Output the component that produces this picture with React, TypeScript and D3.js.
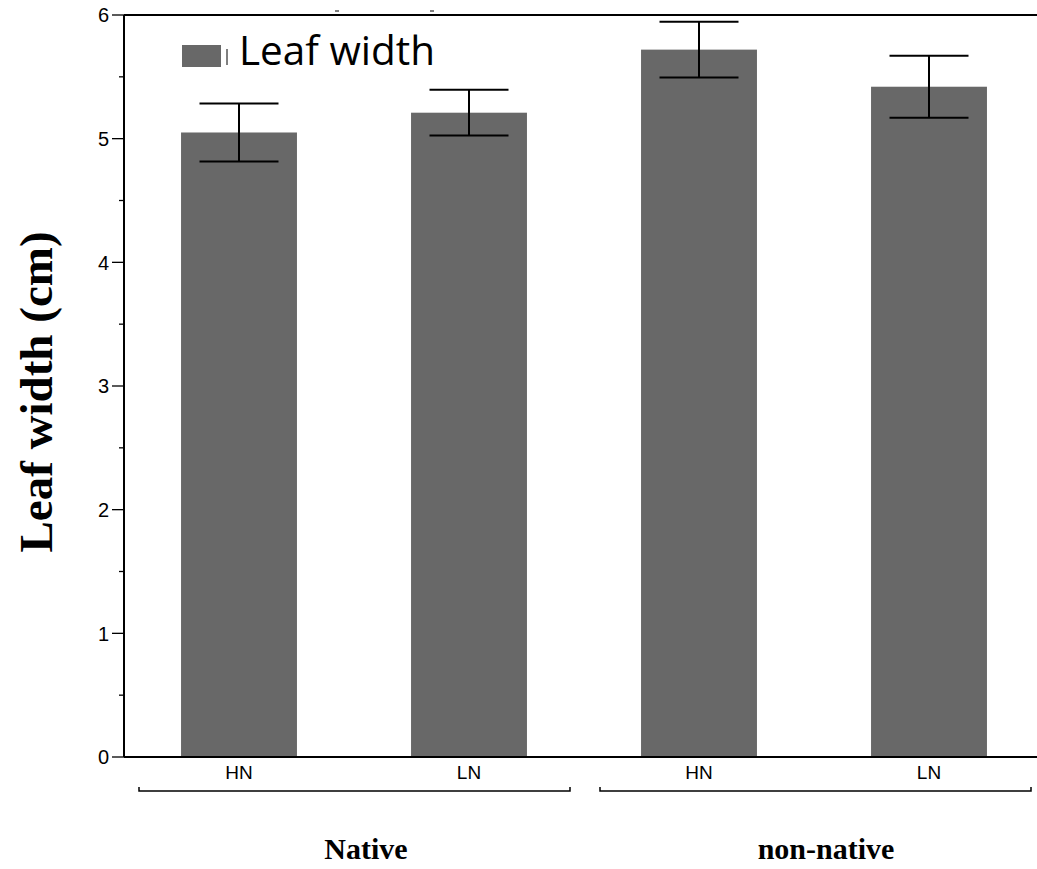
import React from "react";
import * as d3 from "d3";

const categories = ["Native-HN", "Native-LN", "non-native-HN", "non-native-LN"];
const tickLabels = ["HN", "LN", "HN", "LN"];
const means = [5.05, 5.21, 5.72, 5.42];
const errors = [0.235, 0.185, 0.225, 0.25];
const groups = ["Native", "non-native"];
const yTicks = [0, 1, 2, 3, 4, 5, 6];

const W = 1037;
const H = 869;

export default function App() {
  const y = d3.scaleLinear().domain([0, 6]).range([757, 15]);
  const x = d3
    .scaleBand<string>()
    .domain(categories)
    .range([124, 1044])
    .paddingInner(0.496)
    .paddingOuter(0.248);
  const bw = x.bandwidth();
  const minor = d3.range(0.5, 6, 1);
  const barColor = "#686868";

  const groupSpans = [
    { label: groups[0], x1: 139, x2: 570, tx: 366 },
    { label: groups[1], x1: 600, x2: 1031, tx: 826 },
  ];

  return (
    <svg
      width={W}
      height={H}
      style={{ position: "absolute", left: 0, top: 0, background: "#fff" }}
    >
      {/* bars */}
      {categories.map((c, i) => (
        <rect
          key={c}
          x={x(c)}
          y={y(means[i])}
          width={bw}
          height={y(0) - y(means[i])}
          fill={barColor}
        />
      ))}
      {/* error bars */}
      {categories.map((c, i) => {
        const cx = (x(c) as number) + bw / 2;
        const hi = y(means[i] + errors[i]);
        const lo = y(means[i] - errors[i]);
        return (
          <g key={c} stroke="#000" strokeWidth={2}>
            <line x1={cx} x2={cx} y1={hi} y2={lo} />
            <line x1={cx - 39.5} x2={cx + 39.5} y1={hi} y2={hi} />
            <line x1={cx - 39.5} x2={cx + 39.5} y1={lo} y2={lo} />
          </g>
        );
      })}
      {/* frame lines */}
      <line x1={124} x2={W} y1={y(6)} y2={y(6)} stroke="#000" strokeWidth={2} />
      <line x1={124} x2={W} y1={y(0)} y2={y(0)} stroke="#000" strokeWidth={2} />
      <line x1={124} x2={124} y1={y(6)} y2={y(0)} stroke="#000" strokeWidth={2} />
      <line x1={335} x2={339} y1={11} y2={11} stroke="#000" strokeWidth={1} />
      <line x1={430} x2={434} y1={11} y2={11} stroke="#000" strokeWidth={1} />
      {/* y ticks */}
      {yTicks.map((t) => (
        <g key={t}>
          <line x1={112} x2={124} y1={y(t)} y2={y(t)} stroke="#000" strokeWidth={1.3} />
          <text
            x={109}
            y={y(t)}
            dy="0.36em"
            textAnchor="end"
            fontFamily="Liberation Sans, Arial, sans-serif"
            fontSize={20}
          >
            {t}
          </text>
        </g>
      ))}
      {minor.map((t) => (
        <line key={t} x1={119} x2={124} y1={y(t)} y2={y(t)} stroke="#000" strokeWidth={1.3} />
      ))}
      {/* category labels */}
      {categories.map((c, i) => (
        <text
          key={c}
          x={(x(c) as number) + bw / 2}
          y={779}
          textAnchor="middle"
          fontFamily="Liberation Sans, Arial, sans-serif"
          fontSize={19}
        >
          {tickLabels[i]}
        </text>
      ))}
      {/* group brackets */}
      {groupSpans.map((g) => (
        <g key={g.label}>
          <path
            d={`M${g.x1},${787}V${791}H${g.x2}V${787}`}
            fill="none"
            stroke="#000"
            strokeWidth={1.5}
          />
          <text
            x={g.tx}
            y={859}
            textAnchor="middle"
            fontFamily="Liberation Serif, Times New Roman, serif"
            fontWeight="bold"
            fontSize={30}
          >
            {g.label}
          </text>
        </g>
      ))}
      {/* y axis title */}
      <text
        transform={`translate(52,392) rotate(-90)`}
        textAnchor="middle"
        fontFamily="Liberation Serif, Times New Roman, serif"
        fontWeight="bold"
        fontSize={47}
      >
        Leaf width (cm)
      </text>
      {/* legend */}
      <rect x={182} y={45} width={39} height={22} fill={barColor} />
      <line x1={227} x2={227} y1={49} y2={65} stroke="#000" strokeWidth={1} />
      <text
        x={239}
        y={65}
        fontFamily="Open Sans, sans-serif"
        fontSize={41}
        textLength={196}
        lengthAdjust="spacingAndGlyphs"
      >
        Leaf width
      </text>
    </svg>
  );
}
